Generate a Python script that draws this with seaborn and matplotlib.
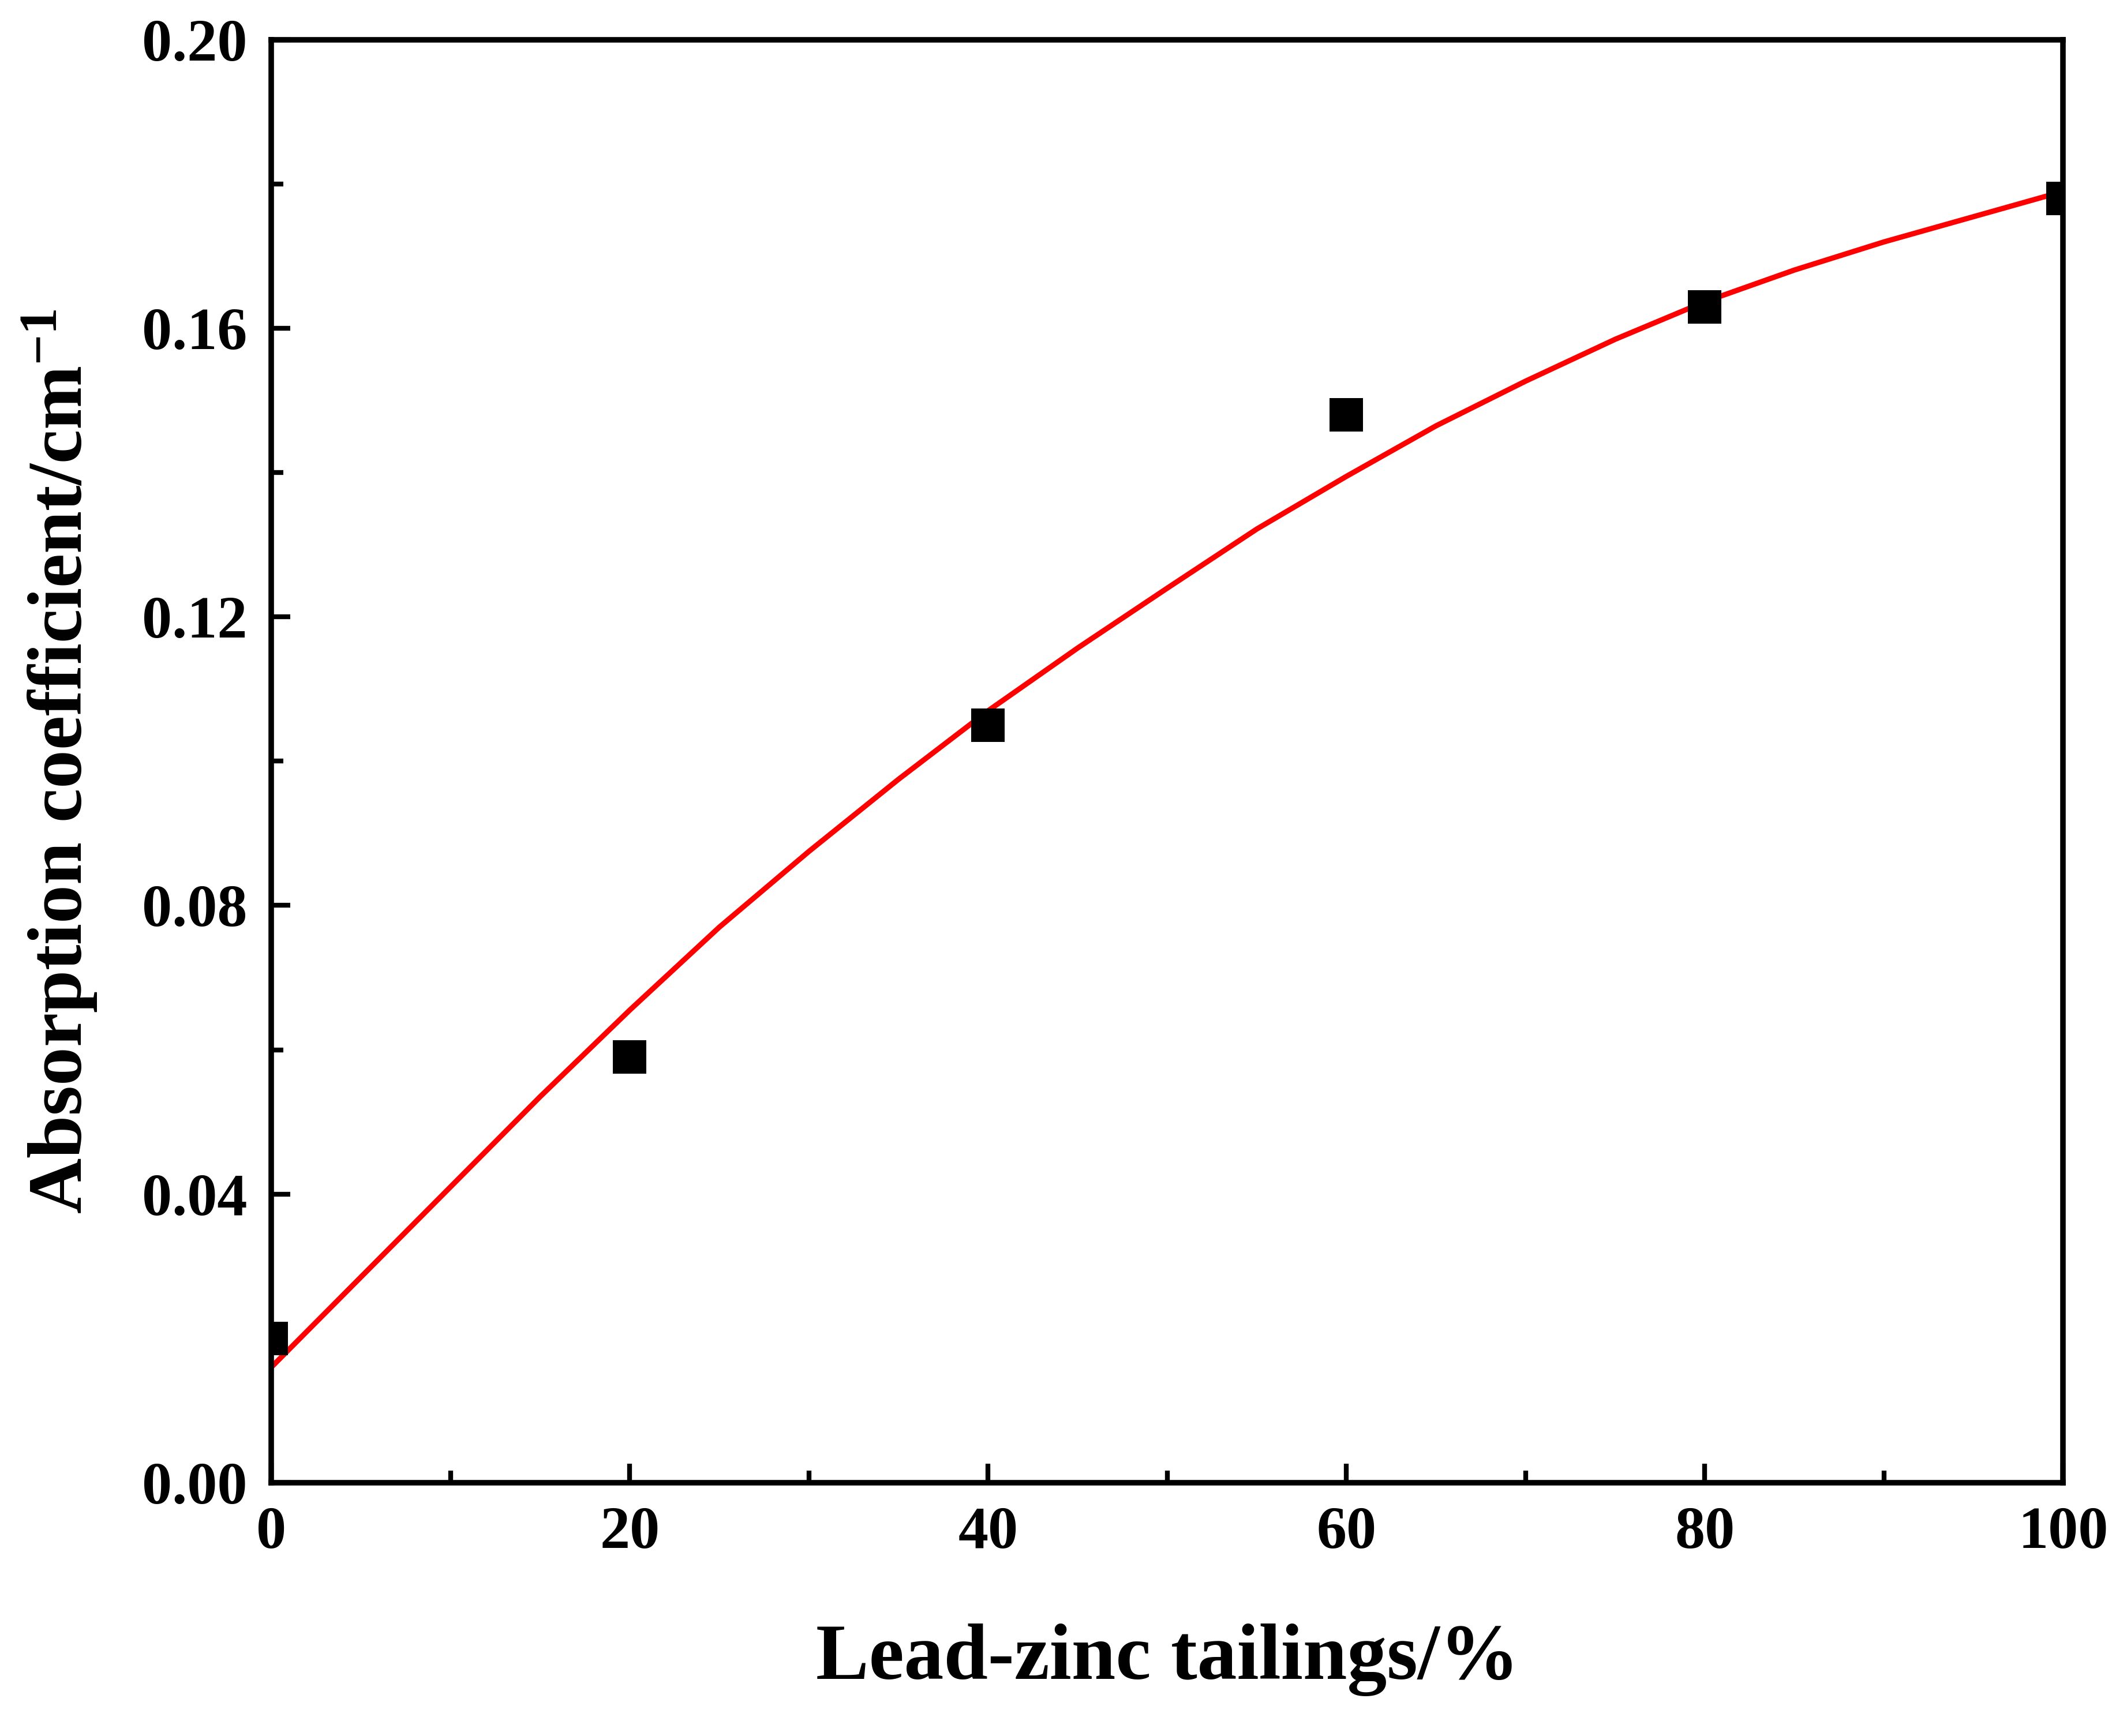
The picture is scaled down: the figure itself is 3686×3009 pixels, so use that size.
import matplotlib
matplotlib.use("Agg")
import matplotlib.pyplot as plt
import seaborn as sns
import pandas as pd
from matplotlib.ticker import MultipleLocator

x_pts = [0, 20, 40, 60, 80, 100]
y_pts = [0.020, 0.059, 0.105, 0.148, 0.163, 0.178]
x_fit = [0, 5, 10, 15, 20, 25, 30, 35, 40, 45, 50, 55, 60, 65, 70, 75, 80, 85, 90, 95, 100]
y_fit = [0.016, 0.0285, 0.041, 0.0535, 0.0655, 0.077, 0.0875, 0.0975, 0.107, 0.1157, 0.124,
         0.1322, 0.1395, 0.1465, 0.1527, 0.1585, 0.1637, 0.1681, 0.172, 0.1755, 0.179]

sns.set_theme(style="ticks")
plt.rcParams['font.family'] = ['Liberation Serif', 'DejaVu Serif']
plt.rcParams['font.weight'] = 'bold'
plt.rcParams['text.color'] = 'black'
plt.rcParams['axes.labelcolor'] = 'black'
plt.rcParams['xtick.color'] = 'black'
plt.rcParams['ytick.color'] = 'black'
plt.rcParams['mathtext.fontset'] = 'custom'
plt.rcParams['mathtext.rm'] = 'Liberation Serif:bold'
plt.rcParams['mathtext.bf'] = 'Liberation Serif:bold'
plt.rcParams['mathtext.default'] = 'bf'

fig = plt.figure(figsize=(3686/300, 3009/300), dpi=300)
ax = fig.add_axes([0.1276, 0.146, 0.8424, 0.831])

sns.lineplot(data=pd.DataFrame({"x": x_fit, "y": y_fit}), x="x", y="y", ax=ax,
             color="#ff0000", linewidth=2.2)
sns.scatterplot(data=pd.DataFrame({"x": x_pts, "y": y_pts}), x="x", y="y", ax=ax,
                marker="s", s=190, color="black", edgecolor="black", linewidth=0, zorder=3)

ax.set_xlim(0, 100)
ax.set_ylim(0, 0.20)
ax.xaxis.set_major_locator(MultipleLocator(20))
ax.xaxis.set_minor_locator(MultipleLocator(10))
ax.yaxis.set_major_locator(MultipleLocator(0.04))
ax.yaxis.set_minor_locator(MultipleLocator(0.02))
ax.yaxis.set_major_formatter(matplotlib.ticker.FormatStrFormatter('%.2f'))
ax.tick_params(which='both', direction='in', width=2, labelsize=25, pad=10, colors='black')
ax.tick_params(which='major', length=8)
ax.tick_params(which='minor', length=5)
for s in ax.spines.values():
    s.set_linewidth(2.3)
    s.set_color('black')
for lab in ax.get_xticklabels() + ax.get_yticklabels():
    lab.set_fontweight('bold')

ax.set_xlabel("Lead-zinc tailings/%", fontsize=33, fontweight='bold', labelpad=26, color='black')
ax.set_ylabel(r"Absorption coefficient/cm$^{-1}$", fontsize=32, fontweight='bold', labelpad=18, color='black')

fig.savefig("out.png", dpi=300)
